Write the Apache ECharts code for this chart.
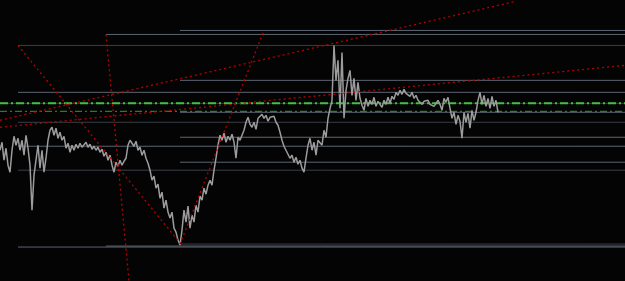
<!DOCTYPE html>
<html>
<head>
<meta charset="utf-8">
<script src="https://cdn.jsdelivr.net/npm/echarts@6/dist/echarts.min.js"></script>
<style>
html,body{margin:0;padding:0;background:#040404;}
#chart{width:625px;height:281px;}
</style>
</head>
<body>
<div id="chart"></div>
<script>
// price (points), one value per bar index
const priceValues = [
131,139,121,133,116,109,131,145,136,143,
131,141,126,146,133,116,71,106,121,136,
113,131,109,123,141,151,154,146,153,143,
149,141,145,133,138,129,136,131,137,133,
138,134,136,139,134,137,132,135,131,134,
129,132,125,129,121,126,116,109,119,115,
121,116,120,123,136,141,143,135,140,131,
134,126,131,123,118,111,101,105,93,97,
83,89,73,81,69,63,69,53,49,41,
36,51,71,59,75,53,66,59,76,69,
85,81,93,87,96,101,96,111,123,136,
146,141,148,139,145,141,147,139,123,144,
141,146,151,159,164,157,154,159,152,163,
161,167,163,166,160,164,162,165,159,156,
149,141,135,131,127,123,126,119,124,117,
121,113,109,123,136,143,131,139,126,141,
143,136,151,144,163,173,181,236,201,221,
173,229,163,191,203,211,186,203,181,199,
183,176,171,183,175,181,177,184,175,180,
182,174,181,177,184,178,185,182,189,186,
191,187,192,188,190,185,189,183,186,181,
179,177,180,178,181,177,179,175,178,181,
177,171,183,179,184,173,163,169,157,166,
160,143,169,159,168,153,171,161,169,181,
189,177,186,175,183,173,185,175,181,169
];

// horizontal levels: value, first bar index, tone (0 light, 1 dark)
const levelValues = [251, 247, 236, 201, 189, 178, 169, 159, 144, 135, 119, 111, 37, 35, 34];
const levelStarts = [90, 53, 9, 90, 9, 0, 90, 9, 90, 9, 90, 9, 90, 53, 9];
const levelTones  = [0, 0, 1, 0, 0, 1, 0, 1, 0, 0, 0, 1, 1, 0, 0];

// green dash-dot reference lines
const greenValues = [178, 170];

// red dotted trend lines: [i1, v1, i2, v2]
const trendLines = [
  [9, 236, 90.5, 37],
  [53, 247, 64.5, 0],
  [90, 37, 132, 251],
  [0, 161, 257.5, 280],
  [0, 154, 312.5, 216]
];

const X_MAX = 312.5;
const series = [];

levelValues.forEach((v, k) => {
  series.push({
    type: 'line', silent: true, symbol: 'none', animation: false,
    data: [[levelStarts[k], v], [X_MAX, v]],
    lineStyle: { width: 1, color: levelTones[k] ? '#3a3f47' : '#5d6572' }
  });
});

series.push({
  type: 'line', silent: true, symbol: 'none', animation: false,
  data: [[0, greenValues[0]], [X_MAX, greenValues[0]]],
  lineStyle: { width: 2, color: '#3cc43c', type: [8, 3, 2, 3] }
});
series.push({
  type: 'line', silent: true, symbol: 'none', animation: false,
  data: [[0, greenValues[1]], [X_MAX, greenValues[1]]],
  lineStyle: { width: 1, color: '#2aa02a', type: [7, 3, 2, 3] }
});

series.push({
  type: 'line', silent: true, symbol: 'none', animation: false,
  data: priceValues.map((v, i) => [i, v]),
  lineStyle: { width: 1.5, color: '#9c9c9c' }
});

trendLines.forEach(t => {
  series.push({
    type: 'line', silent: true, symbol: 'none', animation: false,
    data: [[t[0], t[1]], [t[2], t[3]]],
    lineStyle: { width: 1.3, color: '#b80000', type: [2, 3] }
  });
});

const chart = echarts.init(document.getElementById('chart'));
chart.setOption({
  backgroundColor: '#040404',
  animation: false,
  grid: { left: 0, right: 0, top: 0.5, height: 281, containLabel: false },
  xAxis: { type: 'value', min: 0, max: X_MAX, show: false },
  yAxis: { type: 'value', min: 0, max: 281, show: false },
  series: series
});
</script>
</body>
</html>
